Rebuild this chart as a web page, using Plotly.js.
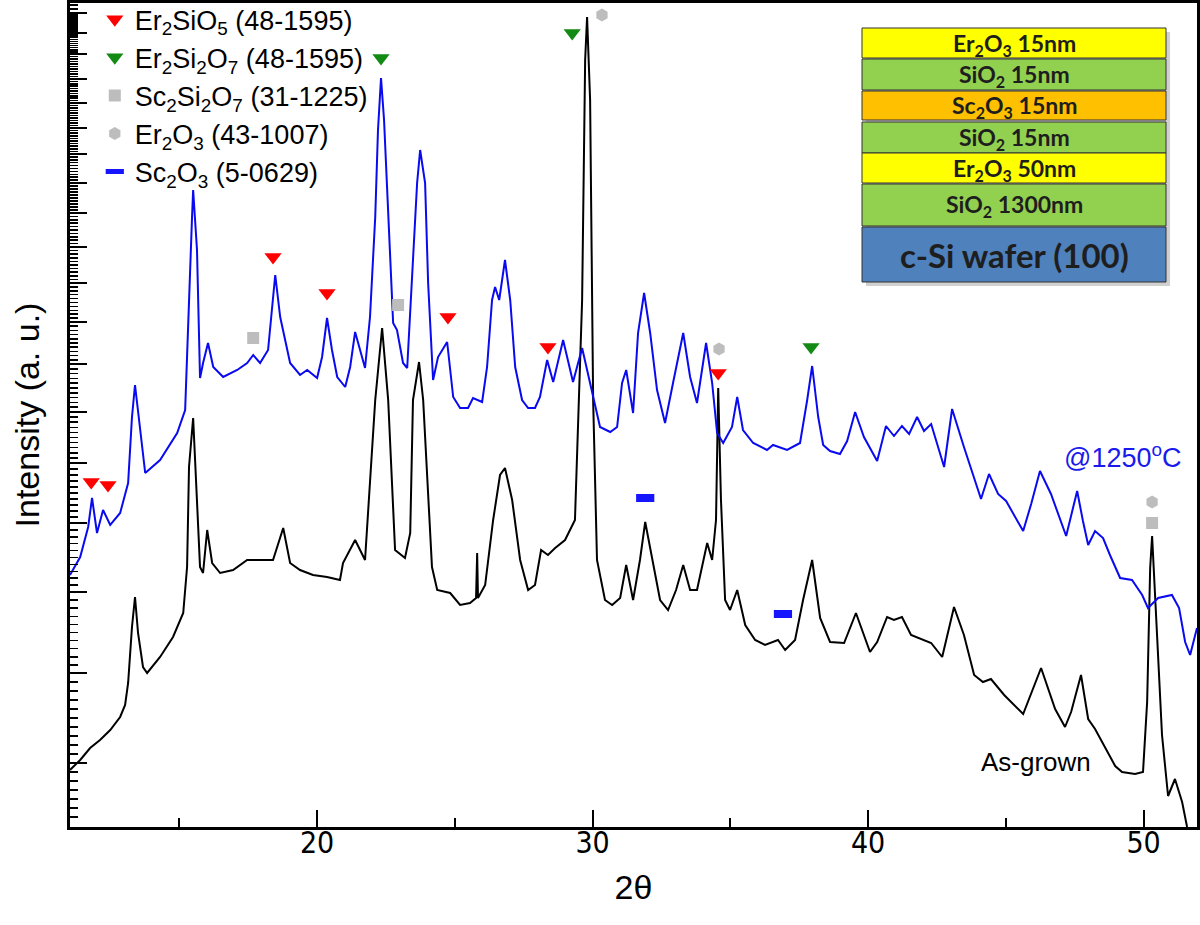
<!DOCTYPE html>
<html><head><meta charset="utf-8">
<script src="https://cdn.plot.ly/plotly-3.0.1.min.js"></script>
<style>body{margin:0;background:#fff}#chart{width:1200px;height:925px}</style>
</head><body><div id="chart"></div>
<script>
// ---- data (2theta in degrees, intensity in arbitrary units) ----
const annealedX = [11.03,11.40,11.69,11.83,12.01,12.23,12.49,12.85,13.14,13.28,
13.39,13.58,13.76,14.30,14.92,15.21,15.32,15.46,15.50,15.64,
15.75,15.86,16.04,16.23,16.59,17.10,17.46,17.68,17.93,18.22,
18.48,18.66,19.02,19.38,19.64,20.00,20.18,20.36,20.54,20.73,
21.02,21.20,21.38,21.56,21.74,21.92,22.11,22.21,22.32,22.43,
22.58,22.76,22.90,23.12,23.27,23.48,23.63,23.74,23.92,24.03,
24.21,24.39,24.72,24.94,25.19,25.48,25.66,25.99,26.17,26.35,
26.46,26.61,26.82,27.01,27.19,27.44,27.66,27.91,28.09,28.35,
28.57,28.93,29.29,29.62,29.91,30.27,30.64,30.89,31.07,31.22,
31.47,31.65,31.87,32.09,32.34,32.63,32.92,33.29,33.54,33.79,
34.12,34.34,34.52,34.74,35.06,35.25,35.46,35.83,36.33,36.55,
37.06,37.53,37.79,37.97,38.19,38.37,38.62,38.98,39.24,39.53,
39.85,40.33,40.65,40.94,41.23,41.49,41.78,42.03,42.29,42.76,
43.05,43.48,44.10,44.39,44.72,45.01,45.63,45.92,46.24,46.64,
47.19,47.59,47.80,47.99,48.24,48.53,48.78,49.15,49.58,49.95,
50.16,50.53,51.03,51.29,51.51,51.69,51.94];
const annealedY = [252,270,300,329,294,317,302,314,344,410,
442,394,354,367,394,417,510,610,637,577,
449,464,484,460,450,457,464,472,464,477,
552,510,464,452,457,449,470,509,477,450,
440,460,495,477,459,510,610,697,749,707,
610,504,497,464,459,560,644,677,644,544,
447,470,485,430,419,419,429,425,460,527,
540,527,567,527,460,427,419,419,430,467,
445,487,445,479,444,400,395,400,444,457,
414,494,534,494,437,404,444,494,450,424,
484,444,394,384,400,430,397,384,377,382,
377,384,427,461,410,382,376,373,386,415,
390,366,401,391,401,393,410,396,403,360,
418,380,328,353,333,326,296,323,356,333,
291,336,306,282,296,289,272,249,247,232,
219,229,232,219,185,172,199];

const asGrownX = [11.03,11.40,11.76,12.12,12.49,12.85,13.03,13.14,13.28,13.39,
13.50,13.68,13.83,14.30,14.77,15.14,15.28,15.35,15.50,15.64,
15.75,15.86,16.01,16.19,16.48,16.95,17.46,18.40,18.77,19.02,
19.38,19.85,20.36,20.83,20.94,21.38,21.74,22.11,22.36,22.58,
22.83,23.19,23.38,23.48,23.70,23.85,24.17,24.36,24.83,25.19,
25.55,25.77,25.81,25.84,26.10,26.39,26.64,26.82,27.08,27.37,
27.66,27.91,28.13,28.38,28.64,29.00,29.36,29.62,29.73,29.80,
29.91,30.02,30.16,30.45,30.71,31.00,31.22,31.47,31.72,31.91,
32.16,32.45,32.74,33.03,33.29,33.54,33.79,34.01,34.16,34.34,
34.48,34.56,34.66,34.81,34.99,35.25,35.54,35.90,36.26,36.73,
36.99,37.35,37.64,37.97,38.26,38.62,39.13,39.56,40.07,40.33,
40.69,40.94,41.23,41.56,42.29,42.69,43.12,43.48,43.85,44.17,
44.46,44.94,45.63,46.28,46.79,47.15,47.37,47.73,47.99,48.24,
48.49,48.97,49.22,49.69,49.98,50.13,50.24,50.31,50.49,50.67,
50.89,51.14,51.40,51.58];
const asGrownY = [57,67,79,87,97,110,122,144,200,230,
194,160,154,170,190,214,260,360,409,327,
260,254,297,264,254,257,267,267,299,264,
257,252,250,247,264,287,267,427,499,427,
277,269,294,427,465,427,260,237,234,222,
224,229,274,229,242,307,352,359,327,267,
237,242,277,272,279,287,307,527,767,810,
727,427,267,227,222,229,262,227,267,305,
267,227,217,237,262,237,237,267,284,267,
307,439,327,227,217,237,202,187,182,187,
177,187,227,267,209,185,184,214,175,185,
210,207,210,192,184,170,220,192,152,145,
148,132,113,159,118,100,115,152,108,98,
85,61,55,53,55,125,259,291,192,92,
31,48,25,0];

// phase identification marks
const er2sio5X = [11.80,12.41,18.40,20.36,24.75,28.38,34.56];
const er2sio5Y = [345,342,570,534,510,480,454];
const er2si2o7X = [22.32,29.26,37.93];
const er2si2o7Y = [769,794,480];
const sc2si2o7X = [17.68,22.94,50.31];
const sc2si2o7Y = [489,522,304];
const er2o3X = [30.34,34.59,50.31];
const er2o3Y = [812,478,325];
const sc2o3X = [31.91,36.91];
const sc2o3Y = [329,213];

const phaseNames = [
  'Er<sub>2</sub>SiO<sub>5</sub> (48-1595)',
  'Er<sub>2</sub>Si<sub>2</sub>O<sub>7</sub> (48-1595)',
  'Sc<sub>2</sub>Si<sub>2</sub>O<sub>7</sub> (31-1225)',
  'Er<sub>2</sub>O<sub>3</sub> (43-1007)',
  'Sc<sub>2</sub>O<sub>3</sub> (5-0629)'
];
const xTickVals = [20,30,40,50];
const xMinorVals = [15,25,35,45];
const sampleLabels = ['@1250<sup>o</sup>C','As-grown'];

const layerLabels = [
  'Er<sub>2</sub>O<sub>3</sub> 15nm',
  'SiO<sub>2</sub> 15nm',
  'Sc<sub>2</sub>O<sub>3</sub> 15nm',
  'SiO<sub>2</sub> 15nm',
  'Er<sub>2</sub>O<sub>3</sub> 50nm',
  'SiO<sub>2</sub> 1300nm',
  'c-Si wafer (100)'
];

// ---- styles / layout helpers ----
const FONT = 'Liberation Sans, Arial, sans-serif';
const NARROW = 'Liberation Sans Narrow, DejaVu Sans Condensed, Liberation Sans, Arial, sans-serif';
const layerFill = ['#ffff00','#92d050','#ffc000','#92d050','#ffff00','#92d050','#4f81bd'];
const layerPx = [[28,58],[59,90],[91,120],[122,153],[153,183],[184,226],[227,282]];
const plotTopPx = 3, plotBotPx = 827, plotLeftPx = 70, plotRightPx = 1197;
const pyToPaper = py => (plotBotPx - py) / (plotBotPx - plotTopPx);
const pxToPaper = px => (px - plotLeftPx) / (plotRightPx - plotLeftPx);

// y-axis ticks of the square-root style intensity scale (positions on the axis)
const yMajor = [64,154,235,304,364,415,463,505,544,580,614,644,673,699,724,748,773,794,814];
const yMinor = [];
[10,19,28,37,46,55].forEach(v => yMinor.push(v));
for (let i = 0; i < yMajor.length - 1; i++) {
  const a = yMajor[i], b = yMajor[i+1];
  for (let j = 1; j < 10; j++) yMinor.push(a + (b - a) * j / 10);
}
yMinor.push(818, 822);

const traces = [
  {x: asGrownX, y: asGrownY, mode: 'lines', line: {color: '#000000', width: 2}, showlegend: false, hoverinfo: 'skip'},
  {x: annealedX, y: annealedY, mode: 'lines', line: {color: '#0a0af0', width: 2}, showlegend: false, hoverinfo: 'skip'},
  {x: er2sio5X, y: er2sio5Y, mode: 'markers', name: phaseNames[0], legendgroup: 'a',
   marker: {symbol: 'triangle-down', size: 15, color: '#ff0000'}},
  {x: er2si2o7X, y: er2si2o7Y, mode: 'markers', name: phaseNames[1], legendgroup: 'b',
   marker: {symbol: 'triangle-down', size: 15, color: '#138a13'}},
  {x: sc2si2o7X, y: sc2si2o7Y, mode: 'markers', name: phaseNames[2], legendgroup: 'c',
   marker: {symbol: 'square', size: 12, color: '#bdbdbd'}},
  {x: er2o3X, y: er2o3Y, mode: 'markers', name: phaseNames[3], legendgroup: 'd',
   marker: {symbol: 'hexagon', size: 13, color: '#bdbdbd'}},
  {x: sc2o3X, y: sc2o3Y, mode: 'markers', name: phaseNames[4], legendgroup: 'e',
   marker: {symbol: 'line-ew', size: 13, line: {color: '#1515ff', width: 8}}}
];

const shapes = [];
const annotations = [];
// shadow of the inset
shapes.push({type: 'rect', xref: 'paper', yref: 'paper',
  x0: pxToPaper(866), x1: pxToPaper(1170), y0: pyToPaper(286), y1: pyToPaper(32),
  fillcolor: '#d0d0d0', line: {width: 0}});
layerLabels.forEach((lab, i) => {
  const [t, b] = layerPx[i];
  shapes.push({type: 'rect', xref: 'paper', yref: 'paper',
    x0: pxToPaper(862), x1: pxToPaper(1166), y0: pyToPaper(b), y1: pyToPaper(t),
    fillcolor: layerFill[i], line: {color: '#333333', width: 1}});
  annotations.push({xref: 'paper', yref: 'paper', x: pxToPaper(1014), y: pyToPaper((t + b) / 2 + 1),
    text: '<b>' + lab + '</b>', showarrow: false, xanchor: 'center', yanchor: 'middle',
    font: {family: 'Lato, Open Sans, sans-serif', size: i === 6 ? 33 : 23, color: '#1e1e1e'}});
});
annotations.push({x: 49.26, y: 371, xref: 'x', yref: 'y', text: sampleLabels[0], showarrow: false,
  font: {family: FONT, size: 27, color: '#1a1aee'}});
annotations.push({x: 46.10, y: 65, xref: 'x', yref: 'y', text: sampleLabels[1], showarrow: false,
  font: {family: FONT, size: 26, color: '#000'}});

const layout = {
  width: 1200, height: 925,
  margin: {l: 70, r: 3, t: 3, b: 98, autoexpand: false},
  paper_bgcolor: '#ffffff', plot_bgcolor: '#ffffff',
  showlegend: true,
  legend: {x: 0.022, y: 1.0095, xanchor: 'left', yanchor: 'top', bgcolor: 'rgba(0,0,0,0)',
    font: {family: FONT, size: 27, color: '#000'}, tracegroupgap: 0},
  xaxis: {range: [11.03, 51.94], tickmode: 'array', tickvals: xTickVals, automargin: false,
    ticks: 'inside', ticklen: 17, tickwidth: 2, tickcolor: '#000',
    minor: {tickmode: 'array', tickvals: xMinorVals, ticks: 'inside', ticklen: 9, tickwidth: 2, tickcolor: '#000', showgrid: false},
    showline: true, linewidth: 3, linecolor: '#000', mirror: true, showgrid: false, zeroline: false,
    tickfont: {family: NARROW, size: 30, color: '#000'}, ticklabelstandoff: -13,
    title: {text: '2θ', font: {family: FONT, size: 34, color: '#000'}, standoff: 17}},
  yaxis: {range: [0, 824], tickmode: 'array', tickvals: yMajor, showticklabels: false, automargin: false,
    ticks: 'inside', ticklen: 17, tickwidth: 2, tickcolor: '#000',
    minor: {tickmode: 'array', tickvals: yMinor, ticks: 'inside', ticklen: 8, tickwidth: 1.5, tickcolor: '#000', showgrid: false},
    showline: true, linewidth: 3, linecolor: '#000', mirror: true, showgrid: false, zeroline: false,
    title: {text: 'Intensity (a. u.)', font: {family: FONT, size: 34, color: '#000'}, standoff: 18}},
  shapes: shapes, annotations: annotations
};

Plotly.newPlot('chart', traces, layout, {staticPlot: true});
</script>
</body></html>
